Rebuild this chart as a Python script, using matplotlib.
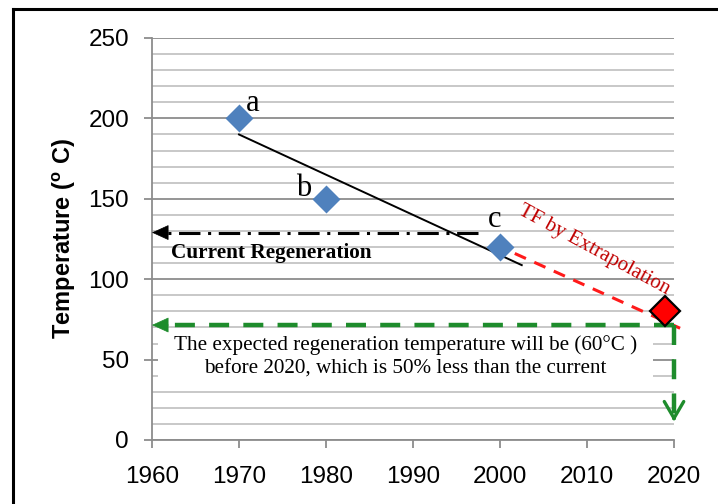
import numpy as np
import matplotlib
matplotlib.use('Agg')
from matplotlib import pyplot as plt
from matplotlib.patches import Rectangle
from matplotlib.lines import Line2D

# measured points
years = [1970, 1980, 2000]
temps = [200, 150, 120]
point_labels = ['a', 'b', 'c']
target_year = [2019]
target_temp = [80]

# guide lines
current_temp = 129
current_from = 1997.5
expected_temp = 71.5
expected_down_to = 11.5
trend_years = [1970, 2002.5]
extrap_years = [2001.7, 2020.7]
extrap_temps = [116, 69.5]

x_ticks = [1960, 1970, 1980, 1990, 2000, 2010, 2020]
y_ticks = [0, 50, 100, 150, 200, 250]
y_minor = [v for v in range(0, 251, 10) if v % 50]

SERIF = 'Liberation Serif'
SANS = 'Liberation Sans'
GREEN = '#1e8c2c'

plt.rcParams['mathtext.fontset'] = 'custom'
plt.rcParams['mathtext.bf'] = SANS + ':bold'
plt.rcParams['mathtext.rm'] = SANS

fig = plt.figure(figsize=(7.18, 5.04), dpi=100)
ax = fig.add_axes([152/718, 1-440/504, 522/718, 402/504])

ax.set_xlim(1960, 2020)
ax.set_ylim(0, 250)
ax.set_xticks(x_ticks)
ax.set_yticks(y_ticks)
ax.set_yticks(y_minor, minor=True)
ax.set_axisbelow(True)
ax.yaxis.grid(True, which='major', color='#8c8c8c', lw=1.3)
ax.yaxis.grid(True, which='minor', color='#c4c4c4', lw=1.3)
for s in ['top', 'right']:
    ax.spines[s].set_visible(False)
for s in ['left', 'bottom']:
    ax.spines[s].set_color('#8c8c8c')
    ax.spines[s].set_linewidth(1.3)
ax.tick_params(axis='both', which='major', color='#8c8c8c', width=1.3,
               length=6, labelsize=17.5)
ax.tick_params(axis='y', which='minor', length=0)
ax.tick_params(axis='x', pad=12.5)
ax.tick_params(axis='y', pad=10.5)
for lab in ax.get_xticklabels() + ax.get_yticklabels():
    lab.set_family(SANS)

ax.set_ylabel(r'Temperature ($\mathbf{^{o}}$ C)', family=SANS, fontsize=17,
              fontweight='bold')
ax.yaxis.label.set_va('center')
ax.yaxis.set_label_coords(-0.167, 0.5)

# white text box
ax.add_patch(Rectangle((1960.7, 34.2), 56.9, 33.6, facecolor='white',
                       edgecolor='none', zorder=1))

# trend line and extrapolation
coef = np.polyfit(years, temps, 1)
ax.plot(trend_years, np.polyval(coef, trend_years), color='black', lw=1.4, zorder=3)
ax.plot(extrap_years, extrap_temps, color='#ff1a1a', lw=2.2, dashes=(4, 3),
        clip_on=False, zorder=3)

# current regeneration arrow
ax.plot([current_from, 1961.6], [current_temp, current_temp], color='black',
        lw=2.2, dashes=(7, 2.5, 1, 2.5), zorder=3)
ax.annotate('', xy=(1960, current_temp), xytext=(1961.8, current_temp),
            arrowprops=dict(arrowstyle='-|>,head_length=0.55,head_width=0.25',
                            color='black', lw=0.5, shrinkA=0, shrinkB=0,
                            mutation_scale=20), zorder=4)

# expected regeneration arrows
ax.plot([2020, 1961.7], [expected_temp, expected_temp], color=GREEN, lw=3.2,
        dashes=(4.5, 3.2), clip_on=False, zorder=3)
ax.annotate('', xy=(1960, expected_temp), xytext=(1961.9, expected_temp),
            arrowprops=dict(arrowstyle='-|>,head_length=0.55,head_width=0.25',
                            color=GREEN, lw=0.5, shrinkA=0, shrinkB=0,
                            mutation_scale=20), zorder=4)
ax.plot([2020, 2020], [expected_temp, expected_down_to + 3], color=GREEN, lw=3.2,
        dashes=(4.5, 3.2), clip_on=False, zorder=3)
ax.annotate('', xy=(2020, expected_down_to), xytext=(2020, expected_down_to + 3),
            arrowprops=dict(arrowstyle='->,head_length=0.6,head_width=0.35',
                            color=GREEN, lw=2.4, shrinkA=0, shrinkB=0,
                            mutation_scale=20), annotation_clip=False, zorder=4)

# points
ax.plot(years, temps, 'D', color='#4f81bd', ms=14, mec='none', zorder=5)
ax.plot(target_year, target_temp, 'D', color='#ff0000', ms=15, mec='black',
        mew=1.6, clip_on=False, zorder=5)

offsets = [(1.6, 9), (-2.6, 6.7), (-0.6, 17.4)]
for x, y, t, (dx, dy) in zip(years, temps, point_labels, offsets):
    ax.text(x + dx, y + dy, t, family=SERIF, fontsize=22, ha='center',
            va='center', zorder=6)

ax.text(2010.8, 118, 'TF by Extrapolation', family=SERIF, fontsize=15,
        color='#c00000', rotation=-28.5, ha='center', va='center',
        rotation_mode='anchor', zorder=6)
ax.text(1962.2, 116.2, 'Current Regeneration', family=SERIF, fontsize=15.3,
        fontweight='bold', ha='left', va='center', zorder=6)
ax.text(1989.1, 52.0, 'The expected regeneration temperature will be (60°C )\n'
        'before 2020, which is 50% less than the current', family=SERIF,
        fontsize=15.2, ha='center', va='center', linespacing=1.32, zorder=6)

# outer frame
fig.add_artist(Line2D([13/718, 13/718], [-0.1, 1-8.5/504], color='black', lw=2.2))
fig.add_artist(Line2D([13/718, 1.1], [1-8.5/504, 1-8.5/504], color='black', lw=2.2))

plt.savefig('out.png', dpi=100)
